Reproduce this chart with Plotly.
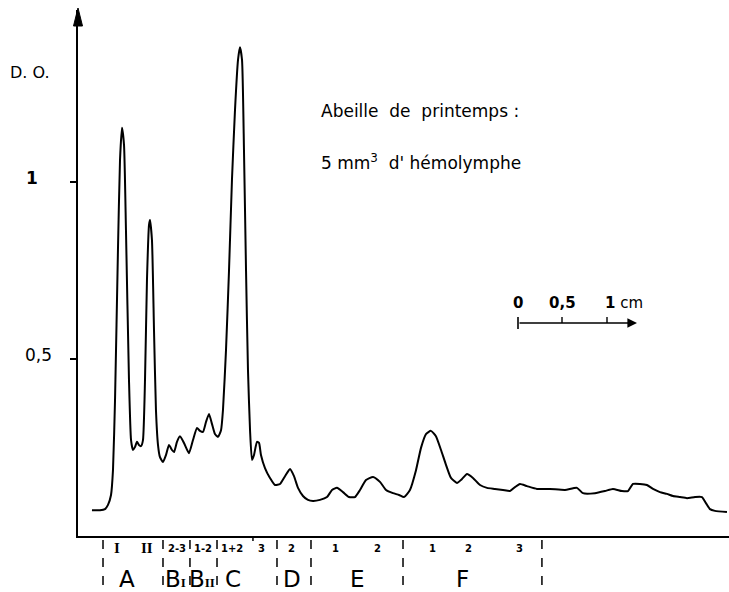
import plotly.graph_objects as go

# Densitometric trace (x in cm from the ordinate axis, y in optical density units)
trace_x = [0.157, 0.247, 0.303, 0.337, 0.371, 0.393, 0.416, 0.449, 0.472, 0.494, 0.517, 0.539, 0.573, 0.596,
           0.618, 0.640, 0.663, 0.685, 0.708, 0.730, 0.753, 0.775, 0.798, 0.809, 0.831, 0.854, 0.876, 0.899,
           0.921, 0.955, 0.989, 1.022, 1.056, 1.079, 1.112, 1.146, 1.191, 1.247, 1.292, 1.337, 1.371, 1.404,
           1.438, 1.472, 1.506, 1.539, 1.573, 1.607, 1.629, 1.663, 1.697, 1.730, 1.764, 1.798, 1.820, 1.843,
           1.865, 1.888, 1.910, 1.933, 1.955, 1.978, 2.011, 2.034, 2.056, 2.101, 2.157, 2.213, 2.270, 2.326,
           2.382, 2.427, 2.472, 2.528, 2.584, 2.640, 2.719, 2.798, 2.854, 2.910, 2.978, 3.045, 3.112, 3.169,
           3.236, 3.315, 3.393, 3.461, 3.539, 3.607, 3.663, 3.730, 3.798, 3.854, 3.910, 3.966, 4.022, 4.079,
           4.135, 4.191, 4.258, 4.315, 4.371, 4.438, 4.517, 4.596, 4.685, 4.775, 4.854, 4.910, 4.966, 5.045,
           5.157, 5.303, 5.472, 5.607, 5.674, 5.809, 5.921, 6.011, 6.112, 6.180, 6.236, 6.315, 6.393, 6.461,
           6.539, 6.618, 6.685, 6.764, 6.843, 6.933, 7.011, 7.056, 7.101, 7.157, 7.292]
trace_y = [0.073, 0.073, 0.076, 0.088, 0.116, 0.186, 0.384, 0.808, 1.062, 1.153, 1.105, 0.864, 0.441, 0.271,
           0.243, 0.251, 0.266, 0.257, 0.254, 0.271, 0.441, 0.723, 0.879, 0.893, 0.836, 0.582, 0.356, 0.257,
           0.223, 0.209, 0.229, 0.257, 0.243, 0.237, 0.266, 0.282, 0.263, 0.234, 0.271, 0.305, 0.297, 0.294,
           0.322, 0.345, 0.316, 0.288, 0.280, 0.299, 0.356, 0.525, 0.751, 1.006, 1.203, 1.345, 1.381, 1.345,
           1.090, 0.751, 0.469, 0.299, 0.215, 0.229, 0.266, 0.263, 0.229, 0.192, 0.164, 0.144, 0.147, 0.169,
           0.189, 0.169, 0.136, 0.113, 0.102, 0.099, 0.102, 0.110, 0.130, 0.136, 0.124, 0.110, 0.110, 0.130,
           0.158, 0.167, 0.153, 0.130, 0.121, 0.116, 0.110, 0.130, 0.186, 0.249, 0.288, 0.297, 0.282, 0.243,
           0.201, 0.164, 0.150, 0.161, 0.175, 0.164, 0.144, 0.136, 0.133, 0.130, 0.127, 0.138, 0.147, 0.141,
           0.133, 0.133, 0.130, 0.136, 0.121, 0.121, 0.127, 0.133, 0.127, 0.127, 0.147, 0.147, 0.144, 0.133,
           0.124, 0.119, 0.113, 0.110, 0.107, 0.110, 0.110, 0.093, 0.076, 0.071, 0.068]

# Y axis ticks
y_tickvals = [0.5, 1.0]
y_ticktext = ["0,5", "<b>1</b>"]
y_ticklabel_px = [38, 32]

# Fraction zones (boundaries in cm) and labels
zone_bounds = [0.281, 0.955, 1.258, 1.562, 2.236, 2.618, 3.652, 5.213]
sub_labels = ["I", "II", "2-3", "1-2", "1+2", "3", "2", "1", "2", "1", "2", "3"]
sub_label_x = [0.438, 0.775, 1.112, 1.404, 1.730, 2.067, 2.404, 2.888, 3.360, 3.978, 4.393, 4.966]
main_labels = ["A", ("B", "I"), ("B", "II"), "C", "D", "E", "F"]
main_label_x = [0.551, 1.090, 1.393, 1.742, 2.404, 3.135, 4.315]

W, H = 729, 592
ML, MR, MT, MB = 78, 0, 10, 56
PW, PH = W - ML - MR, H - MT - MB
X_MAX = 7.315
Y_MAX = 1.486


def px_x(p):  # pixel -> paper x
    return (p - ML) / PW


def px_y(p):  # pixel -> paper y
    return (H - MB - p) / PH


FONT = "DejaVu Sans"
SP = "&nbsp;"

fig = go.Figure()
fig.add_trace(go.Scatter(x=trace_x, y=trace_y, mode="lines",
                         line=dict(color="black", width=2, shape="spline", smoothing=0.5),
                         hoverinfo="skip", showlegend=False))

shapes = []
annotations = []

# y-axis arrow head
shapes.append(dict(type="path", xref="paper", yref="paper",
                   path=f"M {px_x(78)} {px_y(8)} L {px_x(73.5)} {px_y(26)} L {px_x(82.5)} {px_y(26)} Z",
                   fillcolor="black", line=dict(color="black", width=1)))

# y tick labels
for v, t, p in zip(y_tickvals, y_ticktext, y_ticklabel_px):
    annotations.append(dict(x=px_x(p), y=v, xref="paper", yref="y", text=t, showarrow=False,
                            font=dict(family=FONT, size=17, color="black"), xanchor="center",
                            yanchor="middle", yshift=4))
annotations.append(dict(x=px_x(30), y=px_y(73), xref="paper", yref="paper", text="D." + SP + "O.",
                        showarrow=False, font=dict(family=FONT, size=16, color="black"),
                        xanchor="center", yanchor="middle"))

# zone dashed separators
for b in zone_bounds:
    shapes.append(dict(type="line", xref="x", yref="paper", x0=b, x1=b, y0=px_y(540), y1=px_y(592),
                       line=dict(color="black", width=1.5, dash="dash")))

# small tick on baseline
shapes.append(dict(type="line", xref="x", yref="paper", x0=1.966, x1=1.966, y0=0, y1=px_y(541),
                   line=dict(color="black", width=1.5)))

for t, x in zip(sub_labels, sub_label_x):
    roman = t in ("I", "II")
    annotations.append(dict(x=x, y=px_y(548), xref="x", yref="paper", text=f"<b>{t}</b>",
                            showarrow=False,
                            font=dict(family="Liberation Serif" if roman else FONT,
                                      size=15 if roman else 10, color="black"),
                            xanchor="center", yanchor="middle"))
for t, x in zip(main_labels, main_label_x):
    if isinstance(t, tuple):
        txt = (t[0] + "<span style='font-family:Liberation Serif;font-size:13px;font-weight:bold'>"
               + t[1] + "</span>")
    else:
        txt = t
    annotations.append(dict(x=x, y=px_y(579), xref="x", yref="paper", text=txt, showarrow=False,
                            font=dict(family=FONT, size=23, color="black"), xanchor="center",
                            yanchor="middle"))

# description text
annotations.append(dict(x=px_x(319), y=px_y(111), xref="paper", yref="paper",
                        text="Abeille" + SP * 2 + "de" + SP * 2 + "printemps" + SP + ":",
                        showarrow=False, font=dict(family=FONT, size=17, color="black"),
                        xanchor="left", yanchor="middle"))
annotations.append(dict(x=px_x(319), y=px_y(162), xref="paper", yref="paper",
                        text="5" + SP + "mm<sup>3</sup>" + SP * 2 + "d'" + SP + "hémolymphe",
                        showarrow=False, font=dict(family=FONT, size=17, color="black"),
                        xanchor="left", yanchor="middle"))

# scale bar
annotations.append(dict(x=px_x(637), y=px_y(323), ax=-(637 - 518), ay=0, xref="paper", yref="paper",
                        axref="pixel", ayref="pixel", text="", showarrow=True, arrowhead=2, arrowsize=1.2,
                        arrowwidth=1.6, arrowcolor="black"))
shapes.append(dict(type="line", xref="paper", yref="paper", x0=px_x(518), x1=px_x(518),
                   y0=px_y(317), y1=px_y(329), line=dict(color="black", width=1.6)))
for p in (562, 607):
    shapes.append(dict(type="line", xref="paper", yref="paper", x0=px_x(p), x1=px_x(p),
                       y0=px_y(317), y1=px_y(323), line=dict(color="black", width=1.4)))
for txt, p, anc in (("<b>0</b>", 518, "center"), ("<b>0,5</b>", 562, "center"),
                    ("<b>1</b>" + SP + "cm", 603, "left")):
    annotations.append(dict(x=px_x(p), y=px_y(303), xref="paper", yref="paper", text=txt, showarrow=False,
                            font=dict(family=FONT, size=15, color="black"), xanchor=anc, yanchor="middle"))

fig.update_layout(
    width=W, height=H,
    margin=dict(l=ML, r=MR, t=MT, b=MB, pad=0),
    paper_bgcolor="white", plot_bgcolor="white",
    shapes=shapes, annotations=annotations,
    xaxis=dict(range=[0, X_MAX], showgrid=False, zeroline=False, showticklabels=False, ticks="",
               showline=True, linecolor="black", linewidth=2, fixedrange=True),
    yaxis=dict(range=[0, Y_MAX], showgrid=False, zeroline=False, tickvals=y_tickvals,
               showticklabels=False, ticks="outside", ticklen=6, tickwidth=2, tickcolor="black",
               showline=True, linecolor="black", linewidth=2, fixedrange=True),
)

fig.write_html("out.html", post_script="document.body.style.margin='0px';",
               config={"displayModeBar": False})
